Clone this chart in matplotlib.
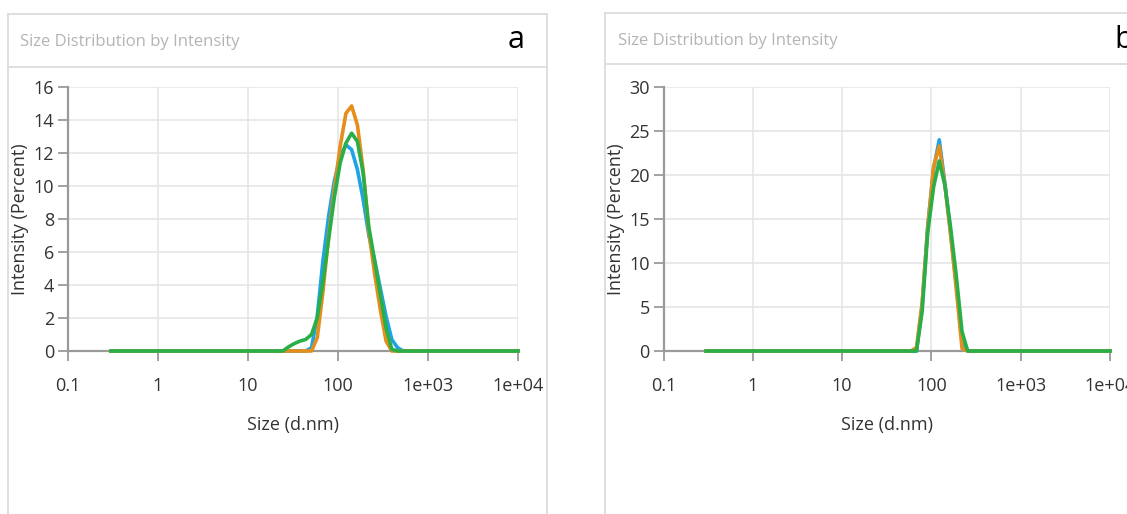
import matplotlib
matplotlib.use('Agg')
import matplotlib.pyplot as plt
from matplotlib.lines import Line2D

# Size classes (d.nm) used by the three runs; 0.3 and 10000 are the range ends
sizes_a = [0.3, 24.4, 28.2, 32.7, 37.8, 43.8, 50.8, 58.8, 68.1, 78.8, 91.0, 105.7,
           122.4, 141.8, 164.2, 190.1, 220.2, 255.0, 295.3, 342.0, 396.1, 458.7, 531.2, 10000]
blue_a = [0, 0, 0, 0, 0, 0, 0.2, 2.1, 5.5, 8.2, 10.3, 11.8,
          12.5, 12.2, 11.0, 9.2, 7.0, 5.5, 3.8, 2.1, 0.7, 0.2, 0, 0]
orange_a = [0, 0, 0, 0, 0, 0, 0, 0.8, 3.6, 7.0, 9.8, 12.4,
            14.4, 14.85, 13.7, 11.0, 7.2, 4.7, 2.5, 0.6, 0, 0, 0, 0]
green_a = [0, 0, 0.25, 0.45, 0.6, 0.7, 1.0, 2.0, 4.2, 6.8, 9.3, 11.4,
           12.6, 13.2, 12.7, 10.8, 7.5, 5.5, 3.4, 1.4, 0.1, 0, 0, 0]

sizes_b = [0.3, 58.8, 68.1, 78.8, 91.0, 105.7, 122.4, 141.8, 164.2, 190.1, 220.2, 255.0, 10000]
blue_b = [0, 0, 0, 5.2, 14.2, 20.7, 24.0, 19.0, 13.4, 7.5, 1.2, 0, 0]
orange_b = [0, 0, 0.4, 5.5, 14.0, 20.9, 23.3, 18.8, 13.2, 7.0, 0.3, 0, 0]
green_b = [0, 0, 0, 4.5, 13.5, 18.6, 21.6, 18.8, 14.0, 8.5, 2.2, 0, 0]

x_ticks = [0.1, 1, 10, 100, 1000, 10000]
x_tick_labels = ['0.1', '1', '10', '100', '1e+03', '1e+04']
y_ticks_a = [0, 2, 4, 6, 8, 10, 12, 14, 16]
y_ticks_b = [0, 5, 10, 15, 20, 25, 30]

title = 'Size Distribution by Intensity'
colors = {'blue': '#1ea4e6', 'orange': '#e58e1c', 'green': '#2aae48'}

plt.rcParams['font.family'] = ['Open Sans', 'DejaVu Sans']

W, H = 1127, 514
fig = plt.figure(figsize=(W / 100, H / 100), dpi=100)
fig.patch.set_facecolor('white')


def px(x, y):
    return x / W, 1 - y / H


def frame(x0, x1, top, divider):
    kw = dict(color='#dcdcdc', lw=1.3, transform=fig.transFigure)
    fig.add_artist(Line2D([px(x0, 0)[0]] * 2, [px(0, top)[1], 0], **kw))
    fig.add_artist(Line2D([px(x1, 0)[0]] * 2, [px(0, top)[1], 0], **kw))
    fig.add_artist(Line2D([px(x0, 0)[0], px(x1, 0)[0]], [px(0, top)[1]] * 2, **kw))
    fig.add_artist(Line2D([px(x0, 0)[0], px(x1, 0)[0]], [px(0, divider)[1]] * 2, **kw))


def panel(rect, sizes, series, yticks, ymax):
    ax = fig.add_axes(rect)
    for key, vals in series:
        ax.plot(sizes, vals, color=colors[key], lw=2.6, zorder=3, clip_on=False,
                solid_joinstyle='round')
    ax.set_xscale('log')
    ax.set_xlim(0.1, 10000)
    ax.set_ylim(0, ymax)
    ax.set_xticks(x_ticks)
    ax.set_xticklabels(x_tick_labels)
    ax.minorticks_off()
    ax.set_yticks(yticks)
    ax.grid(True, color='#e6e6e6', lw=1.2)
    ax.set_axisbelow(True)
    for s in ['top', 'right']:
        ax.spines[s].set_visible(False)
    for s in ['left', 'bottom']:
        ax.spines[s].set_color('#9a9a9a')
        ax.spines[s].set_linewidth(1.6)
    ax.tick_params(axis='both', colors='#9a9a9a', labelcolor='#333333',
                   length=7, width=1.3, labelsize=13)
    ax.tick_params(axis='x', pad=12)
    ax.tick_params(axis='y', pad=3)
    ax.set_xlabel('Size (d.nm)', fontsize=13, color='#333333', labelpad=15)
    ax.set_ylabel('Intensity (Percent)', fontsize=13, color='#333333', labelpad=3)
    return ax


frame(8, 547, 14, 67)
frame(605, 1140, 13, 64)

fig.text(*px(20, 42), title, fontsize=12, color='#b4b4b4', va='center', ha='left')
fig.text(*px(618, 41), title, fontsize=12, color='#b4b4b4', va='center', ha='left')
fig.text(*px(516, 40), 'a', fontsize=22, color='black', va='center', ha='center')
fig.text(*px(1124, 40), 'b', fontsize=22, color='black', va='center', ha='center')

bottom = 1 - 351 / H
height = 264 / H
panel([68 / W, bottom, 450 / W, height], sizes_a,
      [('blue', blue_a), ('orange', orange_a), ('green', green_a)], y_ticks_a, 16)
panel([663.5 / W, bottom, 446.5 / W, height], sizes_b,
      [('blue', blue_b), ('orange', orange_b), ('green', green_b)], y_ticks_b, 30)

fig.savefig('out.png', dpi=100)
